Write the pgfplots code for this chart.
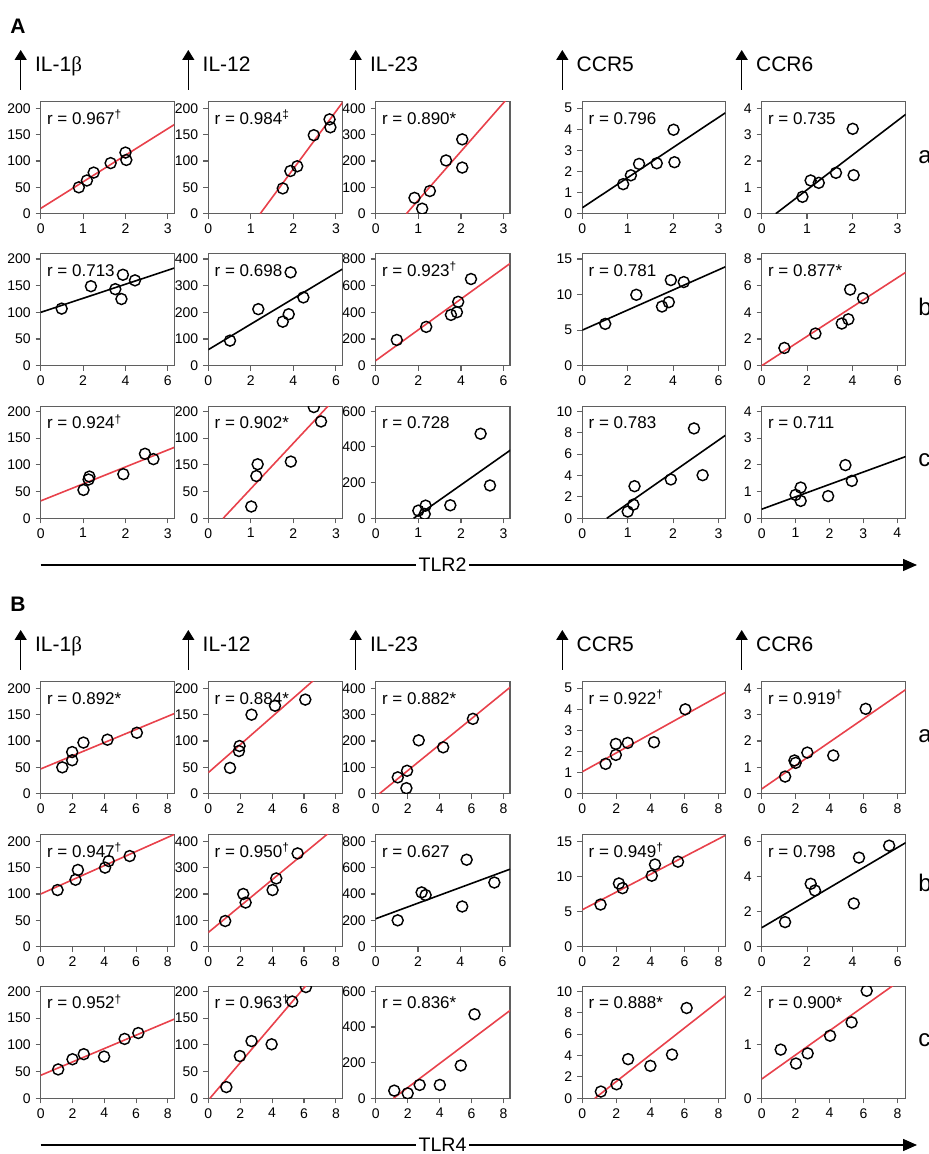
\documentclass[border=0pt]{standalone}
\usepackage{fontspec}
\setmainfont{Liberation Sans}
\newfontfamily\serifgr{Liberation Serif}
\usepackage{pgfplots}
\pgfplotsset{compat=1.18}
\usetikzlibrary{arrows.meta}
\definecolor{rl}{RGB}{232,65,75}
\definecolor{fr}{RGB}{95,95,95}
\newcommand{\tickfont}{\fontsize{7}{7.5}\selectfont}
\newcommand{\rfont}{\fontsize{8.5}{9}\selectfont}
\newcommand{\hfont}{\fontsize{10.5}{12}\selectfont}
\pgfplotsset{
 panel/.style={scale only axis, height=56pt, anchor=south west, xmin=0, ymin=0,
   tick align=outside, xtick pos=bottom, ytick pos=left, major tick length=2.5pt,
   axis line style={fr, line width=0.55pt}, every tick/.style={fr, line width=0.55pt},
   tick label style={font=\tickfont},
   xticklabel style={yshift=1pt},
   yticklabel style={xshift=1pt},
   /pgf/number format/assume math mode=true, clip marker paths=true},
 C1/.style={at={(20.35pt,#1)}, width=66.75pt},
 C2/.style={at={(104.15pt,#1)}, width=67pt},
 C3/.style={at={(187.85pt,#1)}, width=67.15pt},
 C4/.style={at={(291.15pt,#1)}, width=71.5pt},
 C5/.style={at={(380.85pt,#1)}, width=72pt},
}
\newcommand{\panel}[5]{%
\begin{axis}[panel,#1]
\addplot[#4, line width=0.8pt, forget plot] coordinates {#3};
\addplot[only marks, mark=o, black, mark size=2.75pt, mark options={line width=0.72pt}] coordinates {#2};
\node[anchor=base west, inner sep=0pt, font=\rfont] at ([xshift=3pt,yshift=-11.2pt]rel axis cs:0,1) {r = #5};
\end{axis}}
\newcommand{\colhead}[4]{% x, ybottom, baseline, label
\draw[line width=0.7pt, -{Triangle[length=5pt,width=6pt]}] (#1,#2) -- ++(0,20pt);
\node[anchor=base west, inner sep=0pt, font=\hfont] at ([xshift=7pt]#1,#3) {#4};}
\newcommand{\dg}{\textsuperscript{†}}
\newcommand{\ddg}{\textsuperscript{‡}}
\begin{document}
\begin{tikzpicture}
\path[use as bounding box] (0,0) rectangle (464.5pt,577pt);
% ---------- A ----------
\node[anchor=base west, inner sep=0pt, font=\fontsize{10.5}{12}\selectfont\bfseries] at (5pt,560.35pt) {A};
\colhead{10.35pt}{532pt}{541.15pt}{IL-1{\serifgr β}}
\colhead{94.15pt}{532pt}{541.15pt}{IL-12}
\colhead{177.85pt}{532pt}{541.15pt}{IL-23}
\colhead{281.15pt}{532pt}{541.15pt}{CCR5}
\colhead{370.85pt}{532pt}{541.15pt}{CCR6}
% row a
\panel{C1=470.15pt, xmax=3.15, xtick={0,1,2,3}, ymax=212.6, ytick={0,50,100,150,200}}
 {(0.9,50)(1.09,63)(1.25,78)(1.65,96)(2.0,116)(2.02,102)}{(0,10)(3.15,169)}{rl}{0.967\dg}
\panel{C2=470.15pt, xmax=3.15, xtick={0,1,2,3}, ymax=212.6, ytick={0,50,100,150,200}}
 {(1.75,48)(1.93,81)(2.09,90)(2.48,149)(2.85,179)(2.87,164)}{(1.22,0)(3.2,216)}{rl}{0.984\ddg}
\panel{C3=470.15pt, xmax=3.15, xtick={0,1,2,3}, ymax=425, ytick={0,100,200,300,400}}
 {(0.91,60)(1.09,19)(1.27,86)(1.65,202)(2.03,282)(2.03,175)}{(0.72,0)(3.2,458)}{rl}{0.890*}
\panel{C4=470.15pt, xmax=3.15, xtick={0,1,2,3}, ymax=5.31, ytick={0,1,2,3,4,5}}
 {(0.90,1.40)(1.07,1.82)(1.25,2.36)(1.64,2.39)(2.01,3.98)(2.03,2.44)}{(0,0.28)(3.15,4.78)}{black}{0.796}
\panel{C5=470.15pt, xmax=3.18, xtick={0,1,2,3}, ymax=4.25, ytick={0,1,2,3,4}}
 {(0.90,0.64)(1.08,1.26)(1.26,1.17)(1.64,1.55)(2.01,3.22)(2.03,1.46)}{(0.31,0)(3.18,3.77)}{black}{0.735}
% row b
\panel{C1=394.15pt, xmax=6.3, xtick={0,2,4,6}, ymax=210, ytick={0,50,100,150,200}}
 {(0.99,107)(2.37,149)(3.52,143.5)(3.88,170.5)(3.81,125)(4.45,160)}{(0,100)(6.3,183)}{black}{0.713}
\panel{C2=394.15pt, xmax=6.3, xtick={0,2,4,6}, ymax=420, ytick={0,100,200,300,400}}
 {(1.02,94)(2.35,212)(3.50,165)(3.78,193)(3.87,350)(4.47,256)}{(0,60)(6.3,362)}{black}{0.698}
\panel{C3=394.15pt, xmax=6.3, xtick={0,2,4,6}, ymax=840, ytick={0,200,400,600,800}}
 {(0.99,193)(2.37,291)(3.53,381)(3.81,401)(3.87,479)(4.47,650)}{(0,38)(6.3,766)}{rl}{0.923\dg}
\panel{C4=394.15pt, xmax=6.3, xtick={0,2,4,6}, ymax=15.75, ytick={0,5,10,15}}
 {(1.01,5.88)(2.38,9.97)(3.51,8.32)(3.81,8.93)(3.90,12.04)(4.47,11.76)}{(0,5)(6.3,13.9)}{black}{0.781}
\panel{C5=394.15pt, xmax=6.35, xtick={0,2,4,6}, ymax=8.4, ytick={0,2,4,6,8}}
 {(1.0,1.33)(2.37,2.41)(3.53,3.16)(3.82,3.48)(3.90,5.71)(4.47,5.06)}{(0,0)(6.35,7.0)}{rl}{0.877*}
% row c
\panel{C1=317.85pt, xmax=3.15, xtick={0,1,2,3}, ymax=209.4, ytick={0,50,100,150,200}}
 {(1.01,53)(1.13,72.5)(1.15,78)(1.95,82.5)(2.46,120.6)(2.66,110.6)}{(0,32.5)(3.15,132.5)}{rl}{0.924\dg}
\panel{C2=317.85pt, xmax=3.15, xtick={0,1,2,3}, ymax=209.4, ytick={0,50,100,150,200}, yticklabels={0,50,150,100,200}}
 {(1.01,22)(1.13,79)(1.16,101)(1.94,106)(2.48,208)(2.65,181)}{(0.35,0)(2.9,217)}{rl}{0.902*}
\panel{C3=317.85pt, xmax=3.15, xtick={0,1,2,3}, ymax=628, ytick={0,200,400,600}}
 {(1.0,43)(1.15,24)(1.17,71)(1.75,73)(2.46,474)(2.68,184)}{(0.89,0)(3.17,384)}{black}{0.728}
\panel{C4=317.85pt, xmax=3.15, xtick={0,1,2,3}, ymax=10.47, ytick={0,2,4,6,8,10}}
 {(1.0,0.63)(1.125,1.28)(1.15,3.0)(1.95,3.63)(2.46,8.4)(2.65,4.03)}{(0.54,0)(3.15,7.75)}{black}{0.783}
\panel{C5=317.85pt, xmax=4.25, xtick={0,1,2,3,4}, ymax=4.19, ytick={0,1,2,3,4}}
 {(1.0,0.875)(1.15,1.15)(1.15,0.65)(1.96,0.83)(2.47,1.99)(2.66,1.4)}{(0,0.34)(4.25,2.31)}{black}{0.711}
% row labels A
\node[anchor=base west, inner sep=0pt, font=\fontsize{12}{14}\selectfont] at (459pt,495.35pt) {a};
\node[anchor=base west, inner sep=0pt, font=\fontsize{12}{14}\selectfont] at (459pt,419.15pt) {b};
\node[anchor=base west, inner sep=0pt, font=\fontsize{12}{14}\selectfont] at (459pt,343.65pt) {c};
% TLR2 arrow
\draw[line width=0.7pt, -{Triangle[length=7pt,width=6pt]}] (20.35pt,294.5pt) -- (458.5pt,294.5pt);
\node[fill=white, inner sep=1.2pt, font=\fontsize{9.8}{11}\selectfont] at (221.25pt,294.5pt) {TLR2};
% ---------- B ----------
\node[anchor=base west, inner sep=0pt, font=\fontsize{10.5}{12}\selectfont\bfseries] at (5pt,271.15pt) {B};
\colhead{10.35pt}{242pt}{251.15pt}{IL-1{\serifgr β}}
\colhead{94.15pt}{242pt}{251.15pt}{IL-12}
\colhead{177.85pt}{242pt}{251.15pt}{IL-23}
\colhead{281.15pt}{242pt}{251.15pt}{CCR5}
\colhead{370.85pt}{242pt}{251.15pt}{CCR6}
% row a
\panel{C1=180.15pt, xmax=8.4, xtick={0,2,4,6,8}, ymax=212.6, ytick={0,50,100,150,200}}
 {(1.36,50)(1.98,63.5)(1.98,79)(2.69,97)(4.20,102.5)(6.05,115.7)}{(0,47)(8.4,152)}{rl}{0.892*}
\panel{C2=180.15pt, xmax=8.4, xtick={0,2,4,6,8}, ymax=212.6, ytick={0,50,100,150,200}}
 {(1.36,49)(1.92,81)(1.96,90.5)(2.71,150)(4.18,167)(6.08,178.6)}{(0,40)(8.4,263)}{rl}{0.884*}
\panel{C3=180.15pt, xmax=8.4, xtick={0,2,4,6,8}, ymax=425, ytick={0,100,200,300,400}}
 {(1.38,62)(1.96,87)(1.92,21)(2.69,202.5)(4.22,176)(6.08,284)}{(0.23,0)(8.41,404)}{rl}{0.882*}
\panel{C4=180.15pt, xmax=8.4, xtick={0,2,4,6,8}, ymax=5.31, ytick={0,1,2,3,4,5}}
 {(1.37,1.415)(1.97,1.84)(1.97,2.36)(2.67,2.41)(4.21,2.44)(6.05,4.0)}{(0,1.04)(8.4,4.8)}{rl}{0.922\dg}
\panel{C5=180.15pt, xmax=8.49, xtick={0,2,4,6,8}, ymax=4.25, ytick={0,1,2,3,4}}
 {(1.38,0.65)(1.93,1.26)(2.0,1.17)(2.69,1.56)(4.22,1.45)(6.13,3.22)}{(0,0.18)(8.49,3.95)}{rl}{0.919\dg}
% row b
\panel{C1=103.65pt, xmax=8.4, xtick={0,2,4,6,8}, ymax=212.5, ytick={0,50,100,150,200}}
 {(1.06,107.5)(2.19,127)(2.34,145.6)(4.05,150)(4.28,162.5)(5.6,172)}{(0,100)(8.4,213)}{rl}{0.947\dg}
\panel{C2=103.65pt, xmax=8.4, xtick={0,2,4,6,8}, ymax=425, ytick={0,100,200,300,400}}
 {(1.06,97.5)(2.19,200)(2.34,167.5)(4.03,215)(4.26,259)(5.6,354)}{(0,54)(8.4,474)}{rl}{0.950\dg}
\panel{C3=103.65pt, xmax=6.35, xtick={0,2,4,6}, ymax=850, ytick={0,200,400,600,800}}
 {(1.04,200)(2.17,412)(2.36,392)(4.09,305)(4.30,660)(5.61,487)}{(0,212)(6.35,588)}{black}{0.627}
\panel{C4=103.65pt, xmax=8.4, xtick={0,2,4,6,8}, ymax=15.94, ytick={0,5,10,15}}
 {(1.07,6.0)(2.15,9.0)(2.36,8.33)(4.08,10.1)(4.27,11.7)(5.62,12.1)}{(0,5.26)(8.4,15.84)}{rl}{0.949\dg}
\panel{C5=103.65pt, xmax=6.35, xtick={0,2,4,6}, ymax=6.375, ytick={0,2,4,6}}
 {(1.03,1.40)(2.16,3.58)(2.35,3.2)(4.06,2.46)(4.29,5.07)(5.62,5.75)}{(0,1.08)(6.35,5.92)}{black}{0.798}
% row c
\panel{C1=27.85pt, xmax=8.4, xtick={0,2,4,6,8}, ymax=209.4, ytick={0,50,100,150,200}}
 {(1.1,54)(2.0,73)(2.71,82.5)(3.99,78)(5.28,111)(6.14,122)}{(0,43)(8.4,148)}{rl}{0.952\dg}
\panel{C2=27.85pt, xmax=8.4, xtick={0,2,4,6,8}, ymax=209.4, ytick={0,50,100,150,200}}
 {(1.13,21)(1.98,79)(2.71,107)(3.97,101)(5.26,181)(6.12,208)}{(0.1,0)(6.5,224)}{rl}{0.963\dg}
\panel{C3=27.85pt, xmax=8.4, xtick={0,2,4,6,8}, ymax=628, ytick={0,200,400,600}}
 {(1.16,43)(2.0,28)(2.75,75)(4.01,75)(5.32,184)(6.18,471)}{(1.11,0)(8.47,497)}{rl}{0.836*}
\panel{C4=27.85pt, xmax=8.4, xtick={0,2,4,6,8}, ymax=10.47, ytick={0,2,4,6,8,10}}
 {(1.09,0.63)(2.01,1.31)(2.69,3.66)(4.0,3.03)(5.27,4.09)(6.13,8.44)}{(0.74,0)(8.4,9.57)}{rl}{0.888*}
\panel{C5=27.85pt, xmax=8.49, xtick={0,2,4,6,8}, ymax=2.094, ytick={0,1,2}}
 {(1.12,0.91)(2.02,0.65)(2.71,0.84)(4.03,1.17)(5.3,1.42)(6.19,2.01)}{(0,0.36)(8.5,2.28)}{rl}{0.900*}
% row labels B
\node[anchor=base west, inner sep=0pt, font=\fontsize{12}{14}\selectfont] at (459pt,205.65pt) {a};
\node[anchor=base west, inner sep=0pt, font=\fontsize{12}{14}\selectfont] at (459pt,131.15pt) {b};
\node[anchor=base west, inner sep=0pt, font=\fontsize{12}{14}\selectfont] at (459pt,53.65pt) {c};
% TLR4 arrow
\draw[line width=0.7pt, -{Triangle[length=7pt,width=6pt]}] (20.35pt,4.5pt) -- (458.5pt,4.5pt);
\node[fill=white, inner sep=1.2pt, font=\fontsize{9.8}{11}\selectfont] at (221.25pt,4.5pt) {TLR4};
\end{tikzpicture}
\end{document}
